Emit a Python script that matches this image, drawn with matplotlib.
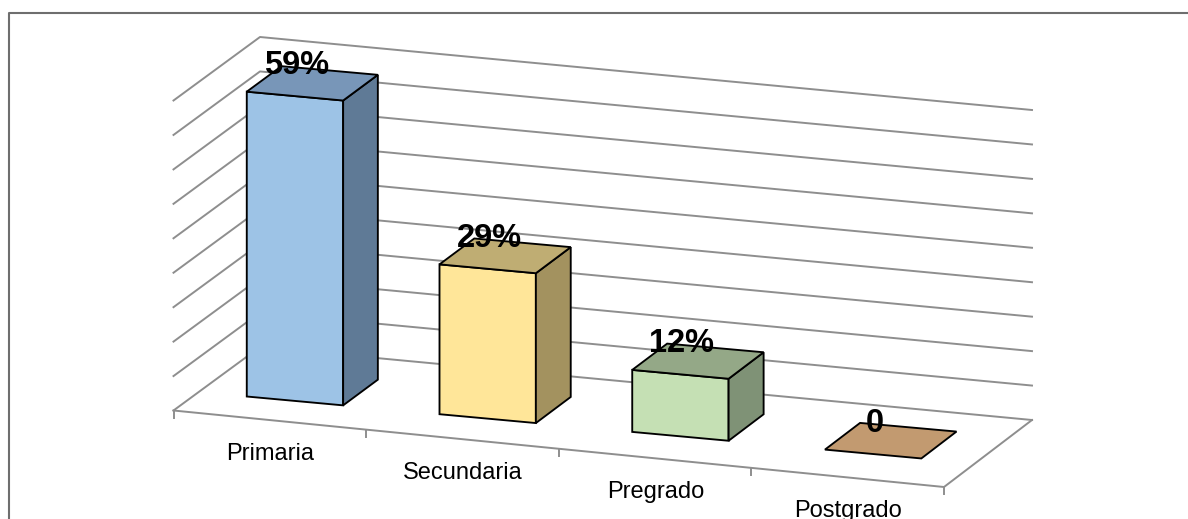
import matplotlib
matplotlib.use('Agg')
import matplotlib.pyplot as plt
import numpy as np
from matplotlib.patches import Polygon

categories = ['Primaria', 'Secundaria', 'Pregrado', 'Postgrado']
values = [0.59, 0.29, 0.12, 0.0]
value_labels = ['59%', '29%', '12%', '0']
front_colors = ['#9DC3E6', '#FFE699', '#C5E0B4', '#F4B183']
top_colors = ['#7896B8', '#BFAD73', '#94A887', '#C29A70']
side_colors = ['#5F7A96', '#A3925F', '#7F9276', '#8F6F50']

axis_max = 0.6
n_gridlines = 10

# floor corners and height of the wall, in pixels
front_left = np.array([173.5, 410.5])
front_right = np.array([944.0, 487.0])
back_left = np.array([260.0, 347.0])
back_right = np.array([1032.0, 420.0])
wall_height = 310.0

# bar footprint inside each category slot
bar_width = 0.5
depth_start = 0.29
depth_end = 0.69


def project(cat, depth, value=0.0):
    # category position + depth + value -> picture position
    t = cat / len(categories)
    front = front_left + t * (front_right - front_left)
    back = back_left + t * (back_right - back_left)
    p = (1 - depth) * front + depth * back
    # bars sit a bit higher towards the right than the floor edges suggest
    p[1] -= 5.7 * depth * (1 - depth) * cat
    p[1] -= value / axis_max * wall_height
    return p


fig = plt.figure(figsize=(11.88, 5.19), dpi=100)
ax = fig.add_axes([0, 0, 1, 1])
ax.set_xlim(0, 1188)
ax.set_ylim(519, 0)
ax.axis('off')

plt.rcParams['font.family'] = ['Liberation Sans', 'DejaVu Sans']

grey = '#8E8E8E'
line_w = 1.4
edge_w = 1.35

# chart frame, only top and left are in the picture
ax.plot([9, 9, 1188], [519, 13, 13], color='#6E6E6E', lw=1.5, zorder=1)

# walls
for v in np.linspace(0, axis_max, n_gridlines):
    pts = np.array([project(0, 0, v), project(0, 1, v), project(4, 1, v)])
    ax.plot(pts[:, 0], pts[:, 1], color=grey, lw=line_w, zorder=2)

# floor edges and ticks
pts = np.array([project(0, 0), project(4, 0), project(4, 1)])
ax.plot(pts[:, 0], pts[:, 1], color=grey, lw=line_w, zorder=2)
for c in range(len(categories) + 1):
    p = project(c, 0)
    ax.plot([p[0], p[0]], [p[1], p[1] + 7], color=grey, lw=line_w, zorder=2)

# bars
for i, v in enumerate(values):
    c0 = i + (1 - bar_width) / 2
    c1 = c0 + bar_width
    front = [project(c0, depth_start), project(c1, depth_start),
             project(c1, depth_start, v), project(c0, depth_start, v)]
    side = [project(c1, depth_start), project(c1, depth_end),
            project(c1, depth_end, v), project(c1, depth_start, v)]
    top = [project(c0, depth_start, v), project(c1, depth_start, v),
           project(c1, depth_end, v), project(c0, depth_end, v)]
    if v > 0:
        ax.add_patch(Polygon(front, facecolor=front_colors[i], edgecolor='black', lw=edge_w, zorder=3))
        ax.add_patch(Polygon(side, facecolor=side_colors[i], edgecolor='black', lw=edge_w, zorder=3))
    ax.add_patch(Polygon(top, facecolor=top_colors[i], edgecolor='black', lw=edge_w, zorder=3))

    # data label
    p = project(i + 0.5, depth_start, v)
    ax.text(p[0] + 1.5, p[1] - 22, value_labels[i], fontsize=23.5, fontweight='bold',
            ha='center', va='baseline', color='black', zorder=5)

    # category label
    p = project(i + 0.5, 0)
    ax.text(p[0] + 0.5, p[1] + 39.5, categories[i], fontsize=17,
            ha='center', va='baseline', color='black', clip_on=False, zorder=5)

fig.savefig('out.png', dpi=100)
